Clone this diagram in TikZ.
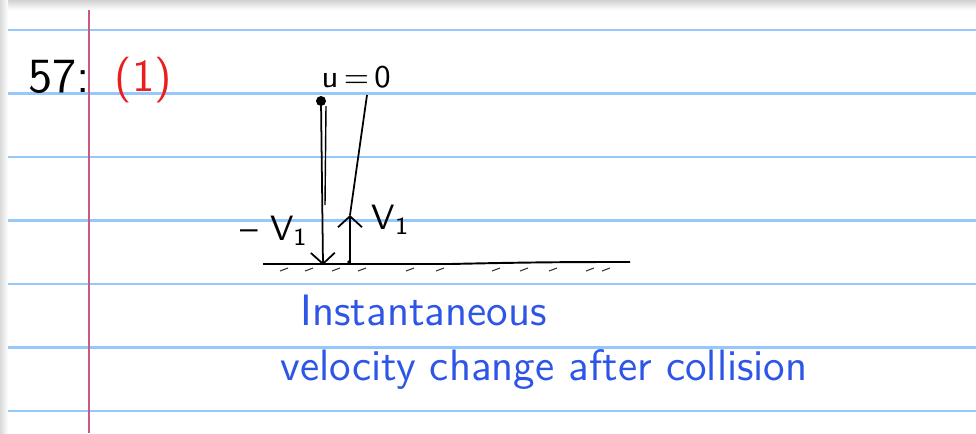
\documentclass[tikz,border=0pt]{standalone}
\usetikzlibrary{arrows.meta}
\definecolor{rule}{RGB}{150,200,250}
\definecolor{margin}{RGB}{200,90,130}
\definecolor{ink}{RGB}{45,85,230}
\definecolor{redink}{RGB}{235,30,30}
\tikzset{
  hand/.style={font=\sffamily\fontsize{10}{12}\selectfont, inner sep=0pt},
  note/.style={hand, text=ink, font=\sffamily\fontsize{12.5}{14}\selectfont},
  hatch/.style={line width=0.3pt, black!80},
  vel/.style={line width=0.5pt, -{Straight Barb[length=1.1mm, width=2.4mm]}}
}
\begin{document}
\begin{tikzpicture}[x=0.01cm, y=-0.01cm]
  \useasboundingbox (0,0) rectangle (976,433);
  % hoja
  \fill[white] (0,0) rectangle (976,433);
  \shade[top color=black!18, bottom color=white] (0,0) rectangle (976,10);
  \shade[left color=black!15, right color=white] (0,0) rectangle (8,433);
  \foreach \k in {0,...,6}
    \draw[rule, line width=0.65pt] (8,30+63.5*\k) -- (976,30+63.5*\k);
  \draw[margin, line width=0.5pt] (89,10) -- (89,433);

  % titulo
  \node[hand, anchor=west, font=\sffamily\fontsize{14}{16}\selectfont] (num) at (28,77) {57:};
  \node[hand, anchor=west, text=redink, font=\sffamily\fontsize{13}{15}\selectfont] (part) at (114,80) {(1)};

  % bola
  \node[hand, anchor=south west, font=\sffamily\fontsize{9}{11}\selectfont] (u0) at (321,89) {u\,=\,0};
  \fill (321,101) circle (5);
  \coordinate (ball) at (321,101);
  \coordinate (top) at (367,95);
  \coordinate (hitL) at (323,265);
  \coordinate (hitR) at (350,265);
  \coordinate (upR) at (350,215);

  % caida y rebote
  \draw[line width=0.4pt] (326,106) -- (325,205);
  \draw[vel] (ball) -- (hitL);
  \draw[line width=0.5pt] (top) -- (upR);
  \draw[vel] (hitR) -- (upR);
  \fill (349,262) circle (1.8);
  \node[hand, anchor=east] (vdown) at (309,231) {-- V\textsubscript{1}};
  \node[hand, anchor=west] (vup) at (371,220) {V\textsubscript{1}};

  % suelo
  \draw[line width=0.55pt] (263,264) -- (450,264) .. controls (540,262) and (580,262) .. (630,262);
  \foreach \x in {284,309,336,362,410,440,496,524,553,590,606}
    \draw[hatch] (\x-4,271) -- (\x+4,268);

  % texto
  \node[note, anchor=west] (inst) at (300,310) {Instantaneous};
  \node[note, anchor=west] (vchg) at (280,370) {velocity change after collision};
\end{tikzpicture}
\end{document}
